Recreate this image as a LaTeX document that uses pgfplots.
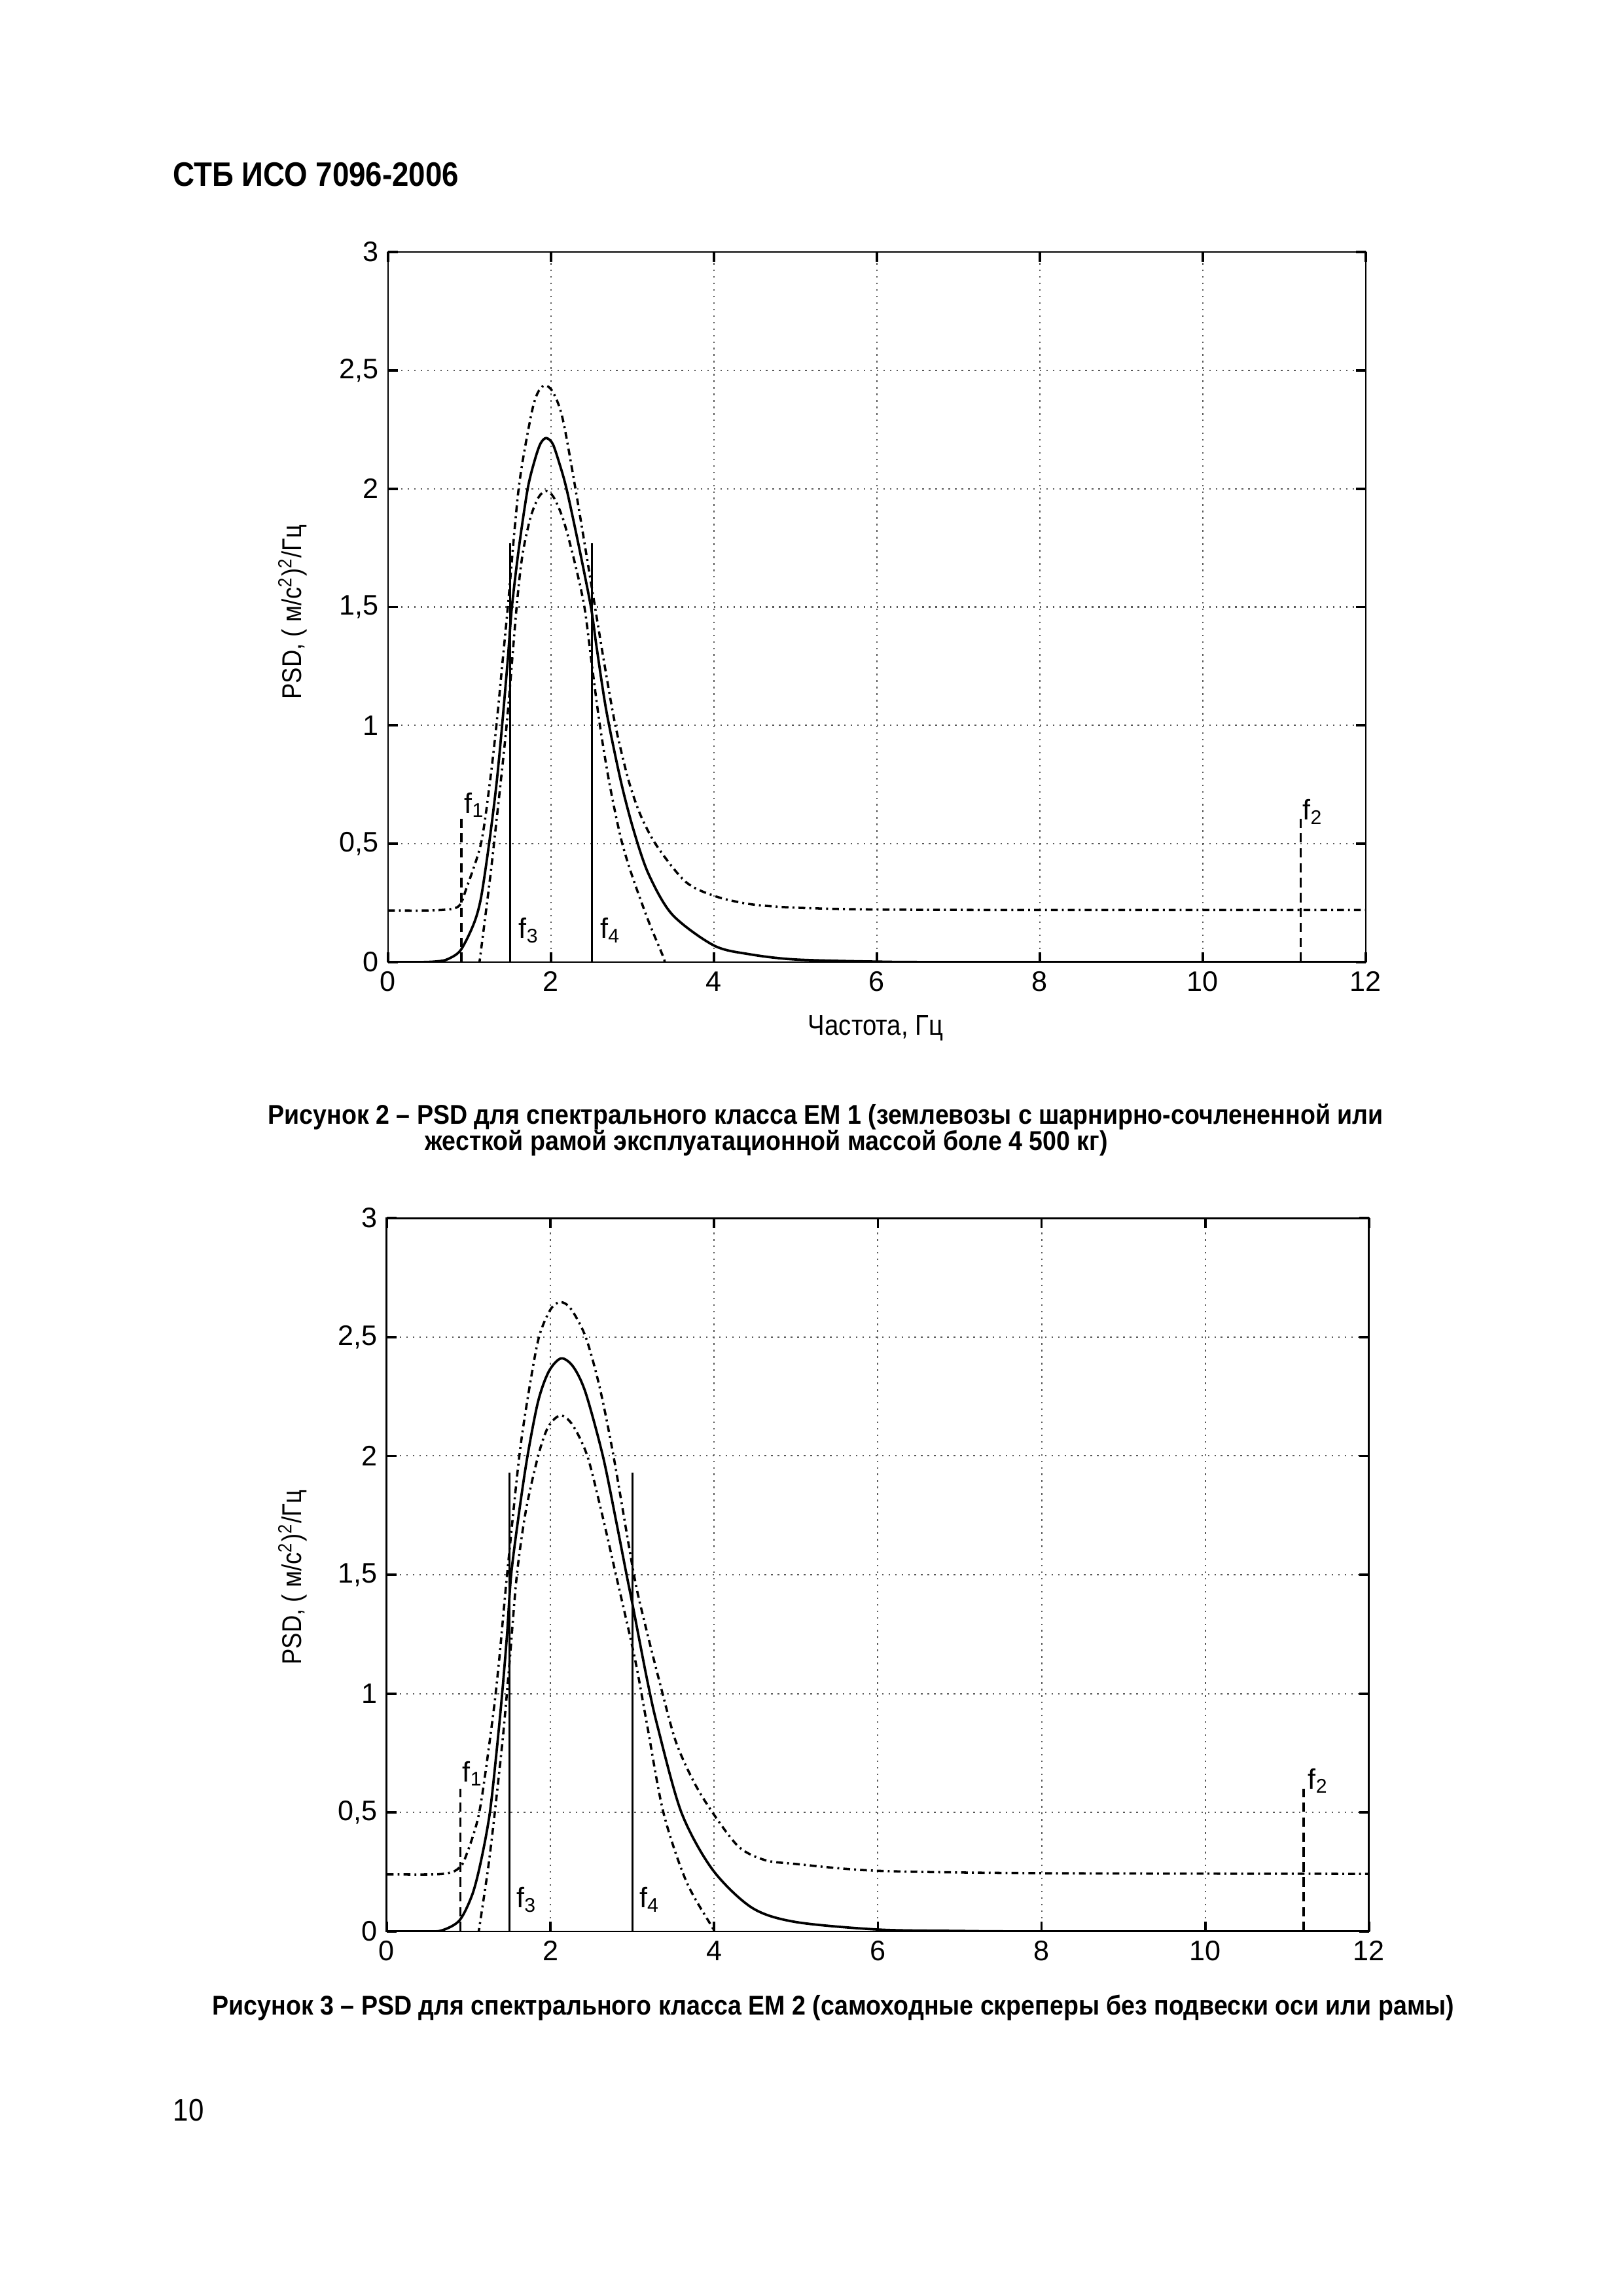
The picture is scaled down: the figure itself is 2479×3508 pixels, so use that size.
\documentclass[border=0pt]{standalone}
\usepackage{fontspec}
\setmainfont{Liberation Sans}
\newfontfamily\cond[FakeStretch=0.88]{Liberation Sans}
\newfontfamily\capfont[FakeStretch=0.905]{Liberation Sans}
\usepackage{pgfplots}
\pgfplotsset{compat=1.18}

\pgfplotsset{
  psd/.style={
    scale only axis,
    anchor=south west,
    xmin=0, xmax=12, ymin=0, ymax=3,
    xtick={0,2,4,6,8,10,12},
    xticklabels={0,2,4,6,8,10,12},
    ytick={0,0.5,1,1.5,2,2.5,3},
    yticklabels={0,{0,5},1,{1,5},2,{2,5},3},
    grid=major,
    major grid style={black!65, line width=0.5pt, dash pattern=on 0.6pt off 1.8pt},
    axis line style={line width=0.7pt},
    major tick length=1.3mm,
    tick style={line width=0.9pt, black},
    tick label style={font=\fontsize{10.4}{12}\selectfont},
  },
  main/.style={black, line width=0.9pt, smooth},
  band/.style={black, line width=0.85pt, smooth, dash pattern=on 2.5pt off 1.5pt on 0.7pt off 1.5pt},
  fline/.style={black, line width=0.8pt, dash pattern=on 3.5pt off 2pt},
  fsolid/.style={black, line width=0.8pt},
}
\tikzset{flab/.style={anchor=base west, inner sep=0pt, font=\fontsize{10.4}{12}\selectfont}}

\begin{document}
\begin{tikzpicture}[x=0.08471mm, y=-0.08471mm]
\path[use as bounding box] (0,0) rectangle (2479,3508);

% header and page number
\node[anchor=base west, inner sep=0pt, font=\cond\bfseries\fontsize{12.5}{15}\selectfont] at (264,284) {СТБ ИСО 7096-2006};
\node[anchor=base west, inner sep=0pt, font=\cond\fontsize{11.5}{14}\selectfont] at (264,3240) {10};

% ---- figure 2 ----
\begin{axis}[psd, at={(50.23mm,-124.52mm)}, width=126.56mm, height=91.91mm]
\addplot[main] coordinates {(0,0) (0.4,0) (0.6,0.003) (0.73,0.012) (0.89,0.05) (1.05,0.16) (1.14,0.27) (1.24,0.5) (1.33,0.75) (1.40,1.0) (1.47,1.28) (1.52,1.5) (1.61,1.76) (1.714,2.0) (1.80,2.12) (1.87,2.19) (1.94,2.214) (2.02,2.19) (2.10,2.11) (2.19,2.0) (2.34,1.76) (2.49,1.5) (2.56,1.33) (2.68,1.06) (2.86,0.76) (3.02,0.55) (3.2,0.37) (3.49,0.2) (4.0,0.07) (4.44,0.033) (5.0,0.011) (6,0.002) (7,0) (12,0)};
\addplot[band] coordinates {(0,0.218) (0.5,0.218) (0.79,0.225) (0.89,0.245) (0.95,0.30) (1.14,0.5) (1.25,0.76) (1.33,1.0) (1.40,1.25) (1.47,1.5) (1.603,2.0) (1.75,2.3) (1.83,2.40) (1.92,2.436) (2.02,2.41) (2.14,2.3) (2.30,2.0) (2.54,1.5) (2.66,1.25) (2.79,1.0) (2.95,0.77) (3.1,0.62) (3.30,0.49) (3.65,0.34) (4.0,0.28) (4.44,0.245) (5.0,0.23) (6,0.222) (8,0.22) (12,0.22)};
\addplot[band] coordinates {(1.12,0) (1.13,0.02) (1.24,0.32) (1.30,0.5) (1.455,1.0) (1.578,1.5) (1.65,1.72) (1.75,1.88) (1.85,1.965) (1.94,1.99) (2.03,1.965) (2.15,1.87) (2.29,1.69) (2.41,1.5) (2.50,1.26) (2.60,1.0) (2.72,0.75) (2.86,0.52) (3.0,0.36) (3.2,0.17) (3.38,0.02) (3.39,0)};
\addplot[fline] coordinates {(0.9,0) (0.9,0.605)};
\addplot[fline] coordinates {(11.2,0) (11.2,0.605)};
\addplot[fsolid] coordinates {(1.5,0) (1.5,1.77)};
\addplot[fsolid] coordinates {(2.5,0) (2.5,1.77)};
\node[flab] at (axis cs:0.93,0.63) {f\textsubscript{1}};
\node[flab] at (axis cs:11.22,0.6) {f\textsubscript{2}};
\node[flab] at (axis cs:1.6,0.1) {f\textsubscript{3}};
\node[flab] at (axis cs:2.6,0.1) {f\textsubscript{4}};
\end{axis}

\node[rotate=90, font=\cond\fontsize{10}{12}\selectfont] at (447,935) {PSD, ( м/с\textsuperscript{2})\textsuperscript{2}/Гц};
\node[font=\cond\fontsize{10.5}{12}\selectfont] at (1338,1571) {Частота, Гц};

\node[anchor=base west, inner sep=0pt, font=\capfont\bfseries\fontsize{10}{12}\selectfont] at (409,1717) {Рисунок 2 – PSD для спектрального класса EM 1 (землевозы с шарнирно-сочлененной или};
\node[anchor=base west, inner sep=0pt, font=\capfont\bfseries\fontsize{10}{12}\selectfont] at (649,1757) {жесткой рамой эксплуатационной массой боле 4 500 кг)};

% ---- figure 3 ----
\begin{axis}[psd, at={(50.06mm,-249.98mm)}, width=127.15mm, height=92.33mm]
\addplot[main] coordinates {(0,0) (0.45,0) (0.67,0.004) (0.89,0.047) (1.05,0.16) (1.16,0.31) (1.26,0.5) (1.34,0.75) (1.41,1.0) (1.47,1.25) (1.52,1.5) (1.62,1.77) (1.72,2.0) (1.85,2.23) (1.98,2.355) (2.13,2.41) (2.28,2.374) (2.43,2.265) (2.64,2.0) (2.80,1.73) (2.93,1.5) (3.0,1.38) (3.18,1.06) (3.31,0.86) (3.60,0.5) (3.98,0.26) (4.46,0.1) (4.99,0.04) (6,0.008) (7,0.002) (8,0) (12,0)};
\addplot[band] coordinates {(0,0.24) (0.6,0.24) (0.8,0.25) (0.89,0.27) (0.96,0.31) (1.13,0.5) (1.29,0.885) (1.37,1.13) (1.47,1.5) (1.62,2.0) (1.74,2.28) (1.86,2.5) (2.0,2.615) (2.12,2.647) (2.25,2.618) (2.43,2.5) (2.6,2.29) (2.77,2.0) (3.02,1.5) (3.15,1.3) (3.34,1.04) (3.53,0.8) (3.75,0.63) (3.98,0.5) (4.30,0.356) (4.62,0.30) (4.99,0.284) (6,0.255) (8,0.245) (12,0.242)};
\addplot[band] coordinates {(1.12,0) (1.13,0.014) (1.24,0.27) (1.32,0.5) (1.42,0.82) (1.50,1.13) (1.59,1.5) (1.70,1.77) (1.85,2.0) (1.97,2.12) (2.12,2.17) (2.27,2.13) (2.45,2.0) (2.62,1.77) (2.80,1.5) (3.03,1.15) (3.18,0.87) (3.38,0.5) (3.66,0.21) (3.99,0.01) (4.0,0)};
\addplot[fline] coordinates {(0.9,0) (0.9,0.6)};
\addplot[fline] coordinates {(11.2,0) (11.2,0.6)};
\addplot[fsolid] coordinates {(1.5,0) (1.5,1.93)};
\addplot[fsolid] coordinates {(3.0,0) (3.0,1.93)};
\node[flab] at (axis cs:0.92,0.63) {f\textsubscript{1}};
\node[flab] at (axis cs:11.25,0.6) {f\textsubscript{2}};
\node[flab] at (axis cs:1.58,0.1) {f\textsubscript{3}};
\node[flab] at (axis cs:3.08,0.1) {f\textsubscript{4}};
\end{axis}

\node[rotate=90, font=\cond\fontsize{10}{12}\selectfont] at (447,2410) {PSD, ( м/с\textsuperscript{2})\textsuperscript{2}/Гц};

\node[anchor=base west, inner sep=0pt, font=\capfont\bfseries\fontsize{10}{12}\selectfont] at (324,3078) {Рисунок 3 – PSD для спектрального класса EM 2 (самоходные скреперы без подвески оси или рамы)};
\end{tikzpicture}
\end{document}
